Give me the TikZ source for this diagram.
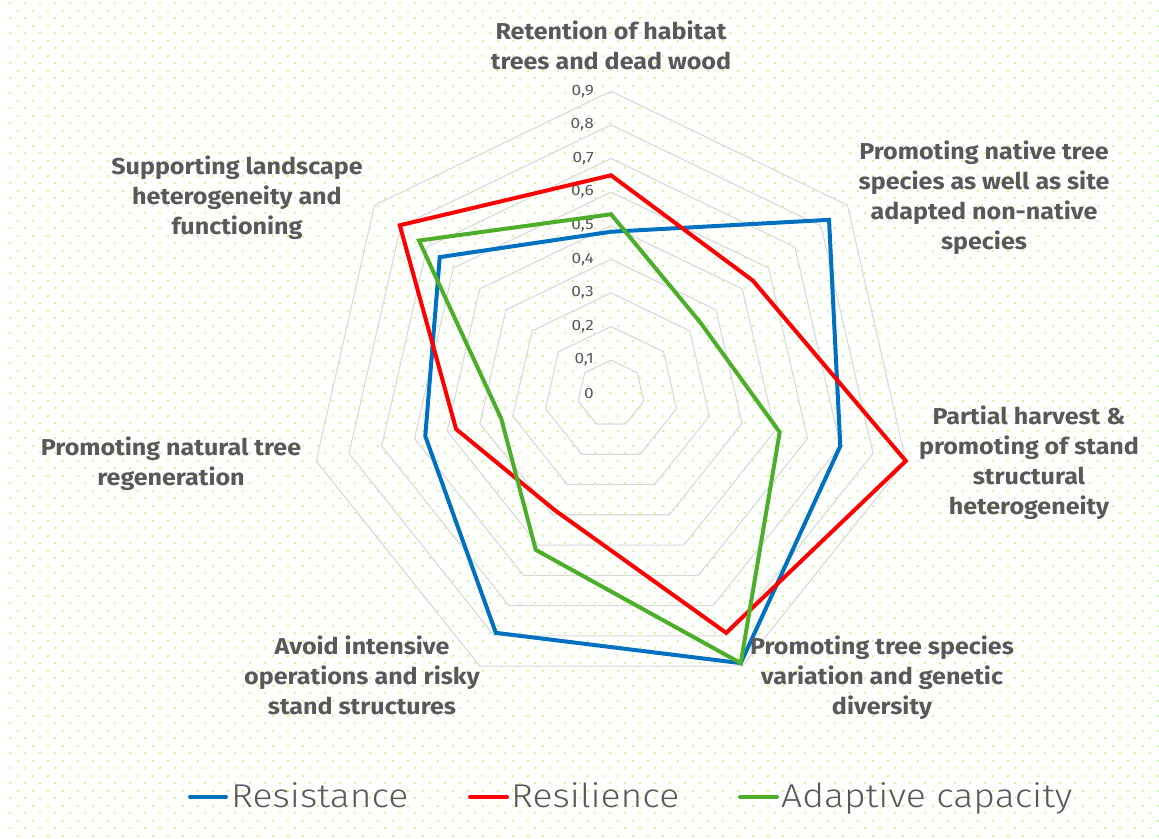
\documentclass[tikz,border=0pt]{standalone}
\usepackage{fontspec}
\setmainfont{Fira Sans}
\newfontfamily\labelfont{Fira Sans}[FakeStretch=1.09]
\newfontfamily\tickfont{Fira Sans}[FakeStretch=1.15]
\newfontfamily\lightfont{Fira Sans Light}[FakeStretch=1.13]
\definecolor{txtgray}{HTML}{595959}
\definecolor{gridgray}{HTML}{D9D9D9}
\definecolor{dotgreen}{RGB}{205,250,155}
\definecolor{resblue}{HTML}{0070C0}
\definecolor{resred}{HTML}{FF0000}
\definecolor{adgreen}{RGB}{77,174,42}
\begin{document}
\begin{tikzpicture}[x=1pt,y=-1pt,
  axislabel/.style={font=\labelfont\fontsize{23}{30}\selectfont\bfseries, text=txtgray, align=center, inner sep=0pt, anchor=base},
  ticklabel/.style={font=\tickfont\fontsize{15}{18}\selectfont, text=txtgray, anchor=east, inner sep=0pt},
  ring/.style={draw=gridgray, line width=1.1pt},
  series/.style={line width=4pt, line join=miter},
  legendline/.style={line width=4pt, line cap=round},
  legendtext/.style={font=\lightfont\fontsize{33}{40}\selectfont, text=txtgray, anchor=base west, inner sep=0pt},
]
\useasboundingbox (0,0) rectangle (1159,838);
\fill[white] (0,0) rectangle (1159,838);
% dotted background
\foreach \k in {0,...,111}{
  \pgfmathsetmacro{\yy}{3.3+7.5*\k}
  \pgfmathsetmacro{\xx}{mod(\k,2)==0 ? 9 : 16.5}
  \draw[dotgreen, line width=2pt, dash pattern=on 2pt off 13pt] (\xx,\yy) -- (1159,\yy);
}
\coordinate (O) at (611,393.7);
\begin{scope}[shift={(611,393.7)}]
  % rings
  \foreach \k in {1,...,9}{
    \pgfmathsetmacro{\rr}{33.6*\k}
    \draw[ring] (-90:\rr) \foreach \i in {1,...,6}{ -- ({-90+\i*360/7}:\rr) } -- cycle;
  }
  % series vertices
  \foreach \v [count=\i from 0] in {0.482,0.83,0.70,0.89,0.79,0.567,0.652}
    \coordinate (b\i) at ({-90+\i*360/7}:{\v*336});
  \foreach \v [count=\i from 0] in {0.65,0.54,0.90,0.79,0.385,0.473,0.804}
    \coordinate (r\i) at ({-90+\i*360/7}:{\v*336});
  \foreach \v [count=\i from 0] in {0.534,0.34,0.515,0.89,0.516,0.335,0.731}
    \coordinate (g\i) at ({-90+\i*360/7}:{\v*336});
\end{scope}
% tick labels
\foreach \k in {0,...,9}
  \node[ticklabel] (t\k) at (594,{393.7-33.6*\k}) {\ifnum\k=0 0\else 0,\k\fi};
% series
\draw[series, resblue] (b0) -- (b1) -- (b2) -- (b3) -- (b4) -- (b5) -- (b6) -- cycle;
\draw[series, resred] (r0) -- (r1) -- (r2) -- (r3) -- (r4) -- (r5) -- (r6) -- cycle;
\draw[series, adgreen] (g0) -- (g1) -- (g2) -- (g3) -- (g4) -- (g5) -- (g6) -- cycle;
% axis labels (anchor = baseline of last line)
\node[axislabel] (ax0) at (611,69) {Retention of habitat\\trees and dead wood};
\node[axislabel] (ax1) at (984,249) {Promoting native tree\\species as well as site\\adapted non-native\\species};
\node[axislabel] (ax2) at (1029,514) {Partial harvest \&\\promoting of stand\\structural\\heterogeneity};
\node[axislabel] (ax3) at (882,714) {Promoting tree species\\variation and genetic\\diversity};
\node[axislabel] (ax4) at (362,714) {Avoid intensive\\operations and risky\\stand structures};
\node[axislabel] (ax5) at (171,485) {Promoting natural tree\\regeneration};
\node[axislabel] (ax6) at (237,234) {Supporting landscape\\heterogeneity and\\functioning};
% legend
\coordinate (lb1) at (190,797); \coordinate (lb2) at (226,797);
\coordinate (lr1) at (470,797); \coordinate (lr2) at (507,797);
\coordinate (lg1) at (740,797); \coordinate (lg2) at (777,797);
\draw[legendline, resblue] (lb1) -- (lb2);
\draw[legendline, resred] (lr1) -- (lr2);
\draw[legendline, adgreen] (lg1) -- (lg2);
\node[legendtext] (leg1) at (231,807.7) {Resistance};
\node[legendtext] (leg2) at (511,807.7) {Resilience};
\node[legendtext] (leg3) at (781,807.7) {Adaptive capacity};
\end{tikzpicture}
\end{document}
